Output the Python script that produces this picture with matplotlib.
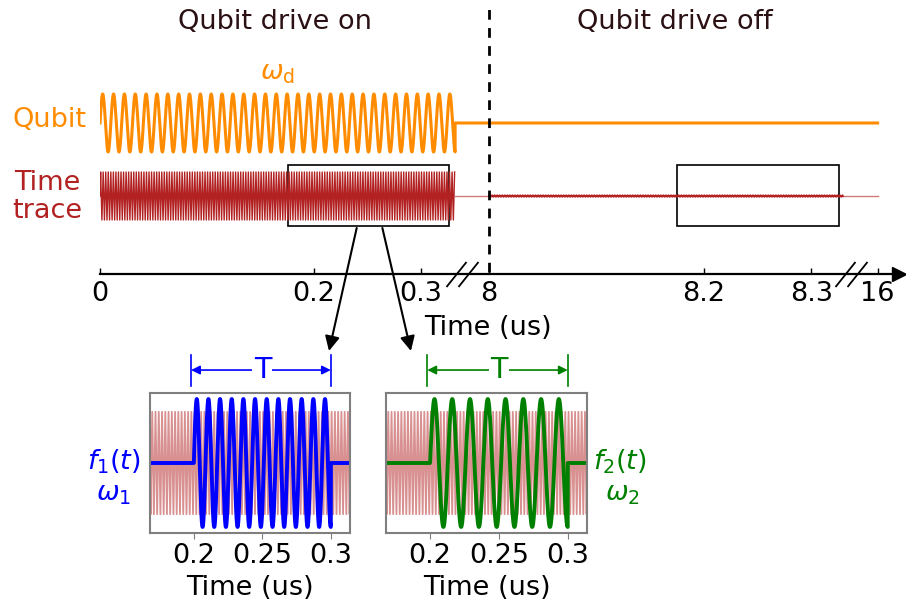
import numpy as np
import matplotlib.pyplot as plt
from matplotlib.patches import Rectangle, ConnectionPatch
from matplotlib.ticker import NullLocator

W, H = 906, 603

# broken time axis: real time (us) -> position along the drawn axis
axis_times = [0, 0.333, 8, 8.333, 16, 17]
axis_pos = [0, 0.333, 0.3636, 0.698, 0.727, 0.752]

tick_times = [0, 0.2, 0.3, 8, 8.2, 8.3, 16]
tick_labels = ["0", "0.2", "0.3", "8", "8.2", "8.3", "16"]

# waveform parameters (time in us, frequency in MHz)
drive_end = 0.332
drive_freq = 98.6
trace_freq = 420.0
trace_dt = 1 / (trace_freq * 4)
noise_end = 8.33
time_end = 16

pulse_start = 0.2
pulse_end = 0.3
f1_freq = 117.5
f2_freq = 77.5

zoom_windows = [(0.176, 0.326), (8.175, 8.326)]
inset_xlim = (0.168, 0.314)
inset_ticks = [0.2, 0.25, 0.3]
inset_ticklabels = ["0.2", "0.25", "0.3"]

qubit_color = '#ff8c00'
trace_color = '#b22222'
f1_color = '#0000ff'
f2_color = '#008000'
header_color = '#2b1114'

# vertical layout of the top panel (units above the time axis)
qubit_level, qubit_amp = 151, 29
trace_level, trace_amp = 78, 24
box_low, box_high = 48, 109

FS = 19.5


def fwd(t):
    return np.interp(t, axis_times, axis_pos)


def inv(u):
    return np.interp(u, axis_pos, axis_times)


def px(x, y):
    return x / W, 1 - y / H


fig = plt.figure(figsize=(W / 100, H / 100), dpi=100)

ax = fig.add_axes([100 / W, (H - 274) / H, 799 / W, 274 / H])
ax.set_xscale('function', functions=(fwd, inv))
ax.set_xlim(0, 16.8)
ax.set_ylim(0, 274)

t_on = np.linspace(0, drive_end, 20000)
qubit_y = qubit_level + qubit_amp * np.sin(2 * np.pi * drive_freq * t_on)
ax.plot(np.r_[t_on, drive_end, time_end], np.r_[qubit_y, qubit_level, qubit_level],
        color=qubit_color, lw=2.2)

# sampled time trace: one sample every quarter period
t_grid = np.arange(0, 0.4, trace_dt)
trace_wave = np.sin(2 * np.pi * trace_freq * t_grid)

on_trace = t_grid <= drive_end
ax.plot(t_grid[on_trace], trace_level + trace_amp * trace_wave[on_trace], color=trace_color, lw=1.0)
ax.plot([drive_end, time_end], [trace_level, trace_level], color=trace_color, lw=1, alpha=0.6)
t_off = np.arange(8, noise_end, trace_dt)
ax.plot(t_off, trace_level + 0.9 * np.sin(2 * np.pi * trace_freq * t_off + 0.3),
        color=trace_color, lw=1.2)

for lo, hi in zoom_windows:
    ax.add_patch(Rectangle((lo, box_low), hi - lo, box_high - box_low,
                           fill=False, ec='k', lw=1.2))

ax.plot([8, 8], [2, 272], color='k', lw=2, ls=(0, (3.5, 3)))

for s in ['left', 'top', 'right']:
    ax.spines[s].set_visible(False)
ax.spines['bottom'].set_linewidth(1.6)
ax.set_yticks([])
ax.set_xticks(tick_times)
ax.set_xticklabels(tick_labels)
ax.xaxis.set_minor_locator(NullLocator())
ax.tick_params(axis='x', direction='in', length=4, width=1, labelsize=FS, pad=5)
ax.plot([1], [0], marker='>', ms=10, color='k', transform=ax.transAxes, clip_on=False)

# break marks on the time axis
slash = [(-0.4, -0.5), (0.4, 0.5)]
for c in [(462 - 100) / 799, (851 - 100) / 799]:
    ax.plot([c - 6 / 799, c + 6 / 799], [0, 0], ls='none', marker=slash, ms=18,
            mew=1.3, color='k', transform=ax.transAxes, clip_on=False)

fig.text(*px(275, 22), "Qubit drive on", ha='center', va='center', fontsize=FS, color=header_color)
fig.text(*px(675, 22), "Qubit drive off", ha='center', va='center', fontsize=FS, color=header_color)
fig.text(*px(277, 73), r"$\omega_\mathrm{d}$", ha='center', va='center', fontsize=FS, color=qubit_color)
fig.text(*px(49, 120), "Qubit", ha='center', va='center', fontsize=FS, color=qubit_color)
fig.text(*px(47, 197), "Time\ntrace", ha='center', va='center', fontsize=FS,
         color=trace_color, linespacing=1.08)
fig.text(*px(488, 328), "Time (us)", ha='center', va='center', fontsize=FS)

# zoomed insets
in_win = (t_grid >= inset_xlim[0] - trace_dt) & (t_grid <= inset_xlim[1] + trace_dt)
t_fine = np.linspace(inset_xlim[0], inset_xlim[1], 6000)
insets = []
for left, width, freq, color in [(150, 200, f1_freq, f1_color), (386, 201, f2_freq, f2_color)]:
    iax = fig.add_axes([left / W, (H - 533) / H, width / W, 140 / H])
    iax.plot(t_grid[in_win], 0.8 * trace_wave[in_win], color=trace_color, lw=1.3, alpha=0.5)
    on = (t_fine >= pulse_start) & (t_fine <= pulse_end)
    pulse = np.where(on, np.sin(2 * np.pi * freq * (t_fine - pulse_start)), 0)
    iax.plot(t_fine, pulse, color=color, lw=2.8)
    iax.set_xlim(*inset_xlim)
    iax.set_ylim(-1.094, 1.094)
    iax.set_yticks([])
    iax.set_xticks(inset_ticks)
    iax.set_xticklabels(inset_ticklabels)
    iax.tick_params(axis='x', length=4, color='#7f7f7f', labelsize=FS, pad=3.5)
    iax.set_xlabel("Time (us)", fontsize=FS, labelpad=4)
    for s in iax.spines.values():
        s.set_color('#7f7f7f')
        s.set_linewidth(1.5)
    trans = iax.get_xaxis_transform()
    for xv in [pulse_start - 0.002, pulse_end]:
        iax.plot([xv, xv], [1.05, 1.27], color=color, lw=1.2, transform=trans, clip_on=False)
    iax.annotate('', xy=(pulse_end, 1.164), xytext=(pulse_start - 0.002, 1.164), xycoords=trans,
                 arrowprops=dict(arrowstyle='<|-|>', color=color, lw=1.2, mutation_scale=13,
                                 shrinkA=0, shrinkB=0))
    iax.text((pulse_start + pulse_end) / 2, 1.164, "T", transform=trans, ha='center', va='center',
             fontsize=FS + 1, color=color, bbox=dict(fc='white', ec='none', pad=1))
    insets.append(iax)

fig.text(*px(114, 462), r"$f_1(t)$", ha='center', va='center', fontsize=FS, color=f1_color)
fig.text(*px(114, 494), r"$\omega_1$", ha='center', va='center', fontsize=FS, color=f1_color)
fig.text(*px(620, 462), r"$f_2(t)$", ha='center', va='center', fontsize=FS, color=f2_color)
fig.text(*px(622, 494), r"$\omega_2$", ha='center', va='center', fontsize=FS, color=f2_color)

# arrows from the first zoom window down to the insets
for start, iax, end in [(0.240, insets[0], (0.895, 1.3)), (0.264, insets[1], (0.124, 1.3))]:
    con = ConnectionPatch(xyA=(start, 46), coordsA=ax.transData, xyB=end, coordsB=iax.transAxes,
                          arrowstyle='-|>', mutation_scale=22, lw=1.5, color='k')
    fig.add_artist(con)

fig.savefig("out.png", dpi=100)
